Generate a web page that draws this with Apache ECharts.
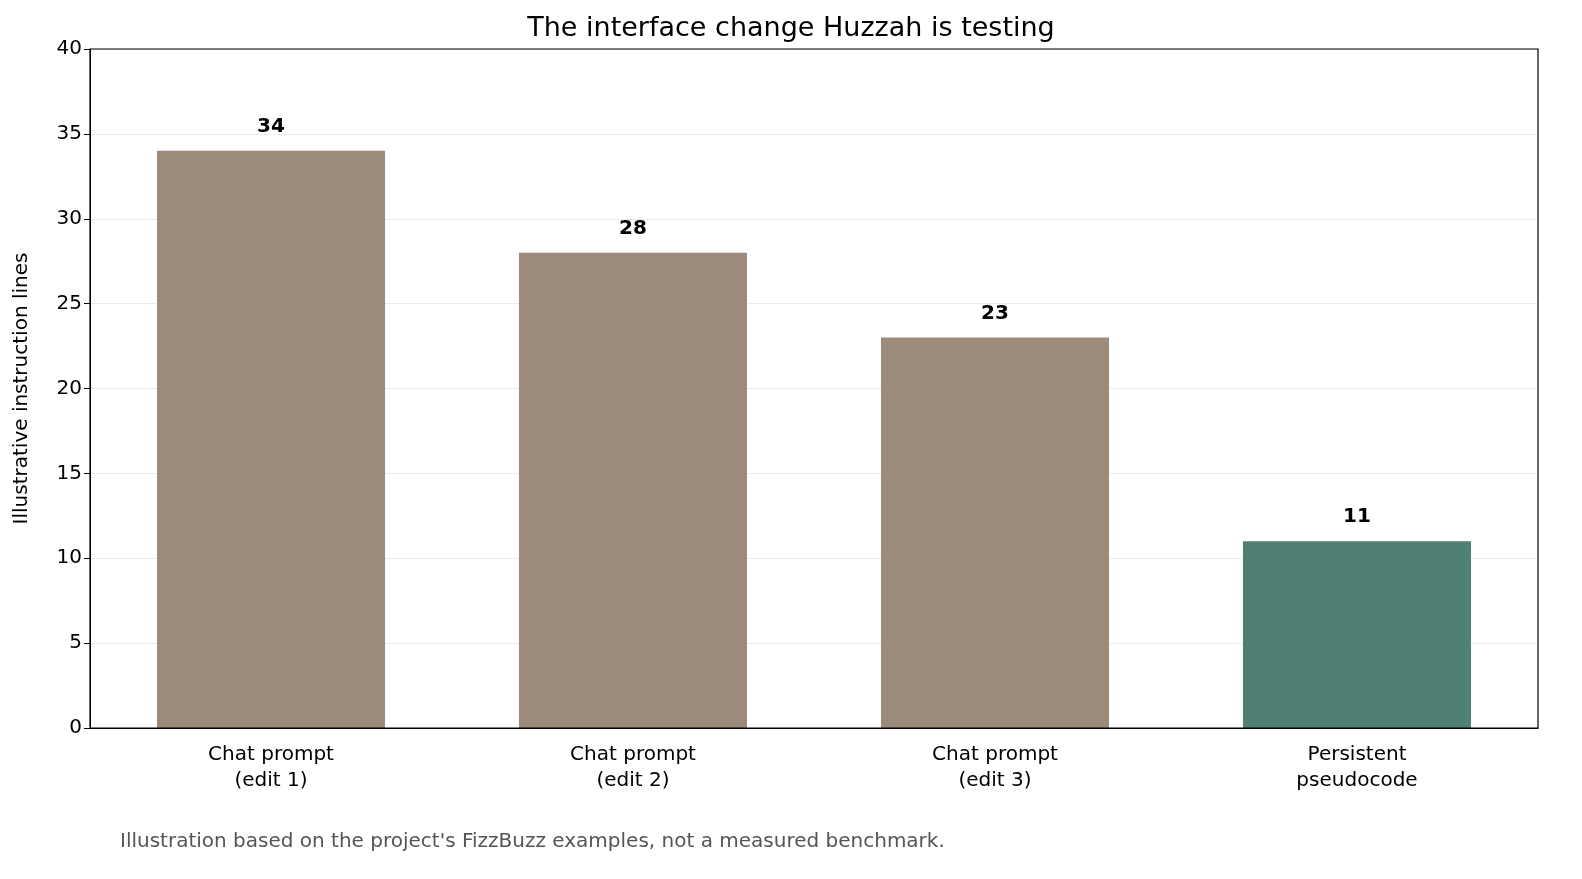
<!DOCTYPE html>
<html><head><meta charset="utf-8">
<script src="https://cdn.jsdelivr.net/npm/echarts@6/dist/echarts.min.js"></script>
<style>html,body{margin:0;padding:0;background:#fff}#c{width:1582px;height:879px}</style>
</head><body><div id="c"></div>
<script>
const categories = ["Chat prompt\n(edit 1)", "Chat prompt\n(edit 2)", "Chat prompt\n(edit 3)", "Persistent\npseudocode"];
const values = [34, 28, 23, 11];
const barColors = ["#9c8b7a", "#9c8b7a", "#9c8b7a", "#507f73"];
const F = "DejaVu Sans";
const chart = echarts.init(document.getElementById('c'));
chart.setOption({
  animation: false,
  textStyle: {fontFamily: F},
  title: {text: "The interface change Huzzah is testing", left: 'center', top: 10,
    textStyle: {fontFamily: F, fontSize: 27, fontWeight: 'normal', color: '#000'}},
  graphic: [{type: 'text', left: 120, top: 832, style: {text: "Illustration based on the project's FizzBuzz examples, not a measured benchmark.", font: "20px DejaVu Sans", fill: '#555'}},
    {type: 'rect', shape: {x: 90, y: 49, width: 1448, height: 679}, style: {fill: 'none', stroke: '#000', lineWidth: 1.2}, z: 10}],
  grid: {left: 90, right: 44, top: 49, bottom: 151},
  xAxis: {type: 'category', data: categories,
    axisLine: {lineStyle: {color: '#000'}}, axisTick: {alignWithLabel: true, length: 6, lineStyle: {color: '#000'}},
    axisLabel: {fontSize: 20, color: '#000', lineHeight: 26, margin: 14, fontFamily: F}},
  yAxis: {type: 'value', min: 0, max: 40, interval: 5, name: 'Illustrative instruction lines',
    nameLocation: 'middle', nameGap: 58, nameTextStyle: {fontSize: 20, color: '#000', fontFamily: F},
    axisLine: {show: true, lineStyle: {color: '#000'}}, axisTick: {show: true, length: 6, lineStyle: {color: '#000'}},
    axisLabel: {fontSize: 20, color: '#000', fontFamily: F},
    splitLine: {lineStyle: {color: '#ebebeb'}}},
  series: [{type: 'bar', barWidth: '63%',
    data: values.map((v, i) => ({value: v, itemStyle: {color: barColors[i]}})),
    label: {show: true, position: 'top', distance: 14, fontSize: 20, fontWeight: 'bold', color: '#000', fontFamily: F}}]
});
</script></body></html>
